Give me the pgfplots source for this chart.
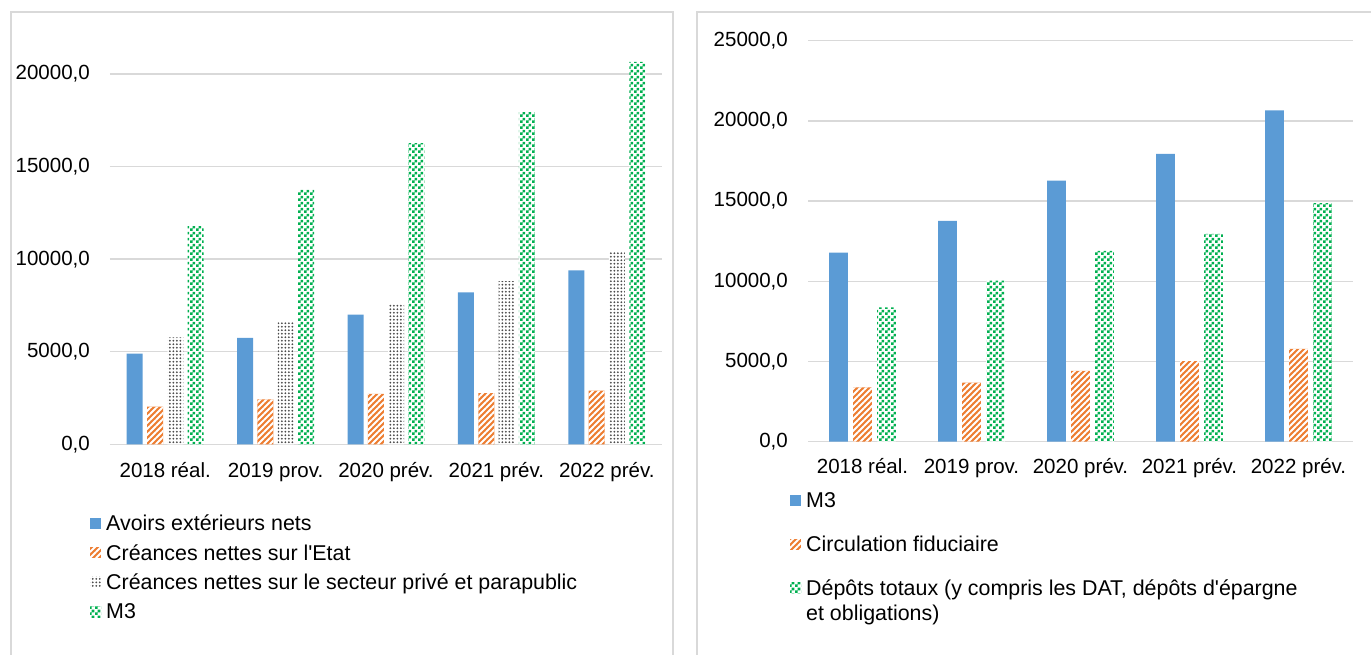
\documentclass[border=0pt]{standalone}
\usepackage{fontspec}
\setmainfont{Liberation Sans}[Ligatures=TeXOff]
\usepackage{pgfplots}
\pgfplotsset{compat=1.18}
\usetikzlibrary{patterns}

\definecolor{cblue}{RGB}{91,155,213}
\definecolor{corange}{RGB}{237,125,49}
\definecolor{cgreen}{RGB}{0,176,80}
\definecolor{cdot}{RGB}{75,75,75}
\definecolor{cgrid}{RGB}{217,217,217}

% white stripes on orange
\pgfdeclarepatternformonly{wstripes}{\pgfqpoint{-1pt}{-1pt}}{\pgfqpoint{7pt}{7pt}}{\pgfqpoint{6pt}{6pt}}{%
  \pgfsetlinewidth{1.9pt}%
  \pgfpathmoveto{\pgfqpoint{0pt}{0pt}}%
  \pgfpathlineto{\pgfqpoint{6pt}{6pt}}%
  \pgfusepath{stroke}}
% small dots
\pgfdeclarepatternformonly{gdots}{\pgfqpoint{-1pt}{-1pt}}{\pgfqpoint{4.5pt}{4.5pt}}{\pgfqpoint{3.5pt}{3.5pt}}{%
  \pgfpathcircle{\pgfqpoint{1.75pt}{1.75pt}}{1pt}%
  \pgfusepath{fill}}
% checker board
\pgfdeclarepatternformonly{gcheck}{\pgfpointorigin}{\pgfqpoint{5.6pt}{5.6pt}}{\pgfqpoint{5.6pt}{5.6pt}}{%
  \pgfpathrectangle{\pgfpointorigin}{\pgfqpoint{2.8pt}{2.8pt}}%
  \pgfpathrectangle{\pgfqpoint{2.8pt}{2.8pt}}{\pgfqpoint{2.8pt}{2.8pt}}%
  \pgfusepath{fill}}

\newcommand{\fnt}{\fontsize{20.5}{24.3}\selectfont}
\newcommand{\lfnt}{\fontsize{21.4}{24.6}\selectfont}

\pgfplotsset{
  panel/.style={
    scale only axis,
    xmin=-0.5, xmax=4.5,
    ymin=0,
    xtick={0,1,2,3,4},
    xticklabels={2018 réal.,2019 prov.,2020 prév.,2021 prév.,2022 prév.},
    axis line style={draw=none},
    major tick length=0pt,
    ymajorgrids,
    grid style={draw=cgrid, line width=1.5pt},
    scaled y ticks=false,
    tick label style={font=\fnt},
    yticklabel style={anchor=east, inner sep=0pt, xshift=-20pt,
      /pgf/number format/fixed, /pgf/number format/fixed zerofill,
      /pgf/number format/precision=1, /pgf/number format/use comma,
      /pgf/number format/1000 sep={}, /pgf/number format/assume math mode=true},
    legend cell align=left,
  },
  boxlegend/.style={legend image code/.code={\path[##1,draw=none] (0pt,-3.2pt) rectangle (11pt,7.8pt);}},
  sblue/.style={fill=cblue, draw=none, boxlegend},
  sorange/.style={fill=corange, draw=none, postaction={pattern=wstripes, pattern color=white}, boxlegend},
  sgray/.style={fill=white, draw=none, postaction={pattern=gdots, pattern color=cdot}, boxlegend},
  sgreen/.style={fill=white, draw=none, postaction={pattern=gcheck, pattern color=cgreen}, boxlegend},
}

\begin{document}
\begin{tikzpicture}[font=\fnt]
\useasboundingbox (0,0) rectangle (1371pt,654pt);

% panel frames
\draw[cgrid, line width=1.3pt] (11pt,-5pt) -- (11pt,642pt) -- (673pt,642pt) -- (673pt,-5pt);
\draw[cgrid, line width=1.3pt] (697pt,-5pt) -- (697pt,642pt) -- (1380pt,642pt);

% left chart
\begin{axis}[panel,
  at={(110pt,209.7pt)}, anchor=south west,
  width=552pt, height=407.3pt,
  ymax=22000, ytick={0,5000,10000,15000,20000},
  ybar=4.3pt, bar width=16pt,
  xticklabel style={anchor=base, inner sep=0pt, yshift=-32.7pt},
  legend style={at={(axis description cs:-0.0362,-0.1753)}, anchor=north west,
    draw=none, fill=none, inner sep=0pt, row sep=9.3pt, column sep=5pt,
    font=\lfnt, nodes={inner sep=0pt, text height=15pt, text depth=5pt}},
]
\addplot[sblue] coordinates {(0,4900) (1,5750) (2,7000) (3,8200) (4,9400)};
\addlegendentry{Avoirs extérieurs nets}
\addplot[sorange] coordinates {(0,2030) (1,2430) (2,2720) (3,2770) (4,2900)};
\addlegendentry{Créances nettes sur l'Etat}
\addplot[sgray] coordinates {(0,5780) (1,6590) (2,7560) (3,8810) (4,10450)};
\addlegendentry{Créances nettes sur le secteur privé et parapublic}
\addplot[sgreen] coordinates {(0,11790) (1,13770) (2,16270) (3,17940) (4,20650)};
\addlegendentry{M3}
\end{axis}

% right chart
\begin{axis}[panel,
  at={(808pt,212.3pt)}, anchor=south west,
  width=545pt, height=401pt,
  ymax=25000, ytick={0,5000,10000,15000,20000,25000},
  ybar=5.3pt, bar width=18.7pt,
  xticklabel style={anchor=base, inner sep=0pt, yshift=-31.6pt},
  legend style={at={(axis description cs:-0.0330,-0.1262)}, anchor=north west,
    draw=none, fill=none, inner sep=0pt, row sep=24pt, column sep=5pt,
    font=\lfnt, nodes={inner sep=0pt, text height=15pt, text depth=5pt}},
]
\addplot[sblue] coordinates {(0,11790) (1,13770) (2,16270) (3,17940) (4,20650)};
\addlegendentry{M3}
\addplot[sorange] coordinates {(0,3390) (1,3680) (2,4410) (3,5030) (4,5780)};
\addlegendentry{Circulation fiduciaire}
\addplot[sgreen] coordinates {(0,8380) (1,10040) (2,11890) (3,12950) (4,14880)};
\addlegendentry{\begin{tabular}[t]{@{}l@{}}Dépôts totaux (y compris les DAT, dépôts d'épargne\\et obligations)\end{tabular}}
\end{axis}
\end{tikzpicture}
\end{document}
